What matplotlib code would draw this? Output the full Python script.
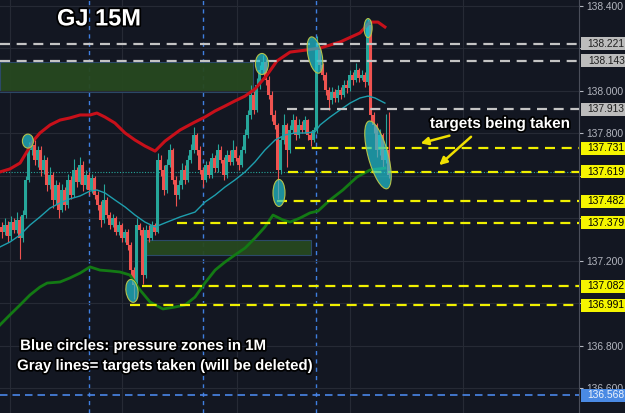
import matplotlib
matplotlib.use('Agg')
import matplotlib.pyplot as plt
import matplotlib.patheffects as pe
from matplotlib.patches import Ellipse, Rectangle
from matplotlib.transforms import IdentityTransform, blended_transform_factory

# 15M candles, GBPJPY
opens = [
    137.360, 137.336, 137.369, 137.317, 137.383, 137.346, 137.393, 137.308, 137.416, 137.581,
    137.722, 137.746, 137.675, 137.722, 137.628, 137.675, 137.558, 137.605, 137.487, 137.558,
    137.440, 137.534, 137.464, 137.581, 137.511, 137.628, 137.572, 137.652, 137.558, 137.605,
    137.534, 137.590, 137.511, 137.464, 137.393, 137.487, 137.416, 137.369, 137.402, 137.336,
    137.369, 137.308, 137.336, 137.275, 137.158, 137.087, 137.369, 137.346, 137.134, 137.346,
    137.308, 137.369, 137.336, 137.675, 137.628, 137.534, 137.652, 137.722, 137.581, 137.511,
    137.558, 137.628, 137.581, 137.675, 137.722, 137.793, 137.722, 137.628, 137.581, 137.652,
    137.605, 137.684, 137.637, 137.722, 137.675, 137.605, 137.699, 137.666, 137.722, 137.684,
    137.652, 137.722, 137.793, 137.887, 137.981, 137.910, 138.028, 138.099, 138.136, 138.052,
    137.981, 137.887, 137.840, 137.628, 137.769, 137.840, 137.722, 137.816, 137.863, 137.793,
    137.840, 137.816, 137.863, 137.793, 137.769, 137.816, 138.193, 138.122, 138.075, 138.004,
    137.957, 137.995, 137.967, 138.004, 137.981, 138.028, 138.014, 138.075, 138.052, 138.099,
    138.061, 138.075, 138.042, 138.310, 137.887, 137.840, 137.722, 137.793, 137.675, 137.722,
]
closes = [
    137.336, 137.369, 137.317, 137.383, 137.346, 137.393, 137.308, 137.416, 137.581, 137.722,
    137.746, 137.675, 137.722, 137.628, 137.675, 137.558, 137.605, 137.487, 137.558, 137.440,
    137.534, 137.464, 137.581, 137.511, 137.628, 137.572, 137.652, 137.558, 137.605, 137.534,
    137.590, 137.511, 137.464, 137.393, 137.487, 137.416, 137.369, 137.402, 137.336, 137.369,
    137.308, 137.336, 137.275, 137.158, 137.087, 137.369, 137.346, 137.134, 137.346, 137.308,
    137.369, 137.336, 137.675, 137.628, 137.534, 137.652, 137.722, 137.581, 137.511, 137.558,
    137.628, 137.581, 137.675, 137.722, 137.793, 137.722, 137.628, 137.581, 137.652, 137.605,
    137.684, 137.637, 137.722, 137.675, 137.605, 137.699, 137.666, 137.722, 137.684, 137.652,
    137.722, 137.793, 137.887, 137.981, 137.910, 138.028, 138.099, 138.136, 138.052, 137.981,
    137.887, 137.840, 137.628, 137.769, 137.840, 137.722, 137.816, 137.863, 137.793, 137.840,
    137.816, 137.863, 137.793, 137.769, 137.816, 138.193, 138.122, 138.075, 138.004, 137.957,
    137.995, 137.967, 138.004, 137.981, 138.028, 138.014, 138.075, 138.052, 138.099, 138.061,
    138.075, 138.042, 138.310, 137.887, 137.840, 137.722, 137.793, 137.675, 137.722, 137.605,
]
highs = [
    137.385, 137.40, 137.39, 137.41, 137.40, 137.43, 137.41, 137.44, 137.60, 137.76,
    137.79, 137.77, 137.74, 137.74, 137.70, 137.69, 137.64, 137.62, 137.58, 137.57,
    137.56, 137.55, 137.61, 137.60, 137.68, 137.64, 137.69, 137.67, 137.63, 137.62,
    137.61, 137.60, 137.53, 137.48, 137.56, 137.50, 137.43, 137.42, 137.41, 137.39,
    137.38, 137.35, 137.35, 137.29, 137.17, 137.40, 137.38, 137.36, 137.37, 137.37,
    137.39, 137.38, 137.71, 137.70, 137.65, 137.68, 137.75, 137.73, 137.60, 137.58,
    137.66, 137.65, 137.70, 137.75, 137.83, 137.80, 137.74, 137.64, 137.67, 137.67,
    137.71, 137.70, 137.75, 137.74, 137.69, 137.72, 137.72, 137.77, 137.74, 137.70,
    137.74, 137.82, 137.91, 138.03, 138.00, 138.06, 138.12, 138.17, 138.15, 138.07,
    138.00, 137.91, 137.85, 137.79, 137.89, 137.85, 137.84, 137.89, 137.88, 137.87,
    137.86, 137.88, 137.87, 137.81, 137.83, 138.26, 138.20, 138.13, 138.09, 138.02,
    138.02, 138.01, 138.03, 138.02, 138.05, 138.05, 138.10, 138.09, 138.13, 138.11,
    138.10, 138.09, 138.34, 138.32, 137.90, 137.85, 137.82, 137.80, 137.89, 137.90,
]
lows = [
    137.31, 137.32, 137.29, 137.30, 137.33, 137.33, 137.21, 137.29, 137.40, 137.57,
    137.70, 137.65, 137.64, 137.60, 137.61, 137.53, 137.54, 137.45, 137.47, 137.40,
    137.43, 137.44, 137.45, 137.49, 137.50, 137.55, 137.56, 137.53, 137.54, 137.51,
    137.52, 137.49, 137.44, 137.36, 137.38, 137.40, 137.35, 137.36, 137.32, 137.32,
    137.29, 137.29, 137.25, 137.13, 137.02, 137.07, 137.32, 137.09, 137.12, 137.29,
    137.30, 137.32, 137.33, 137.60, 137.51, 137.52, 137.64, 137.56, 137.46, 137.49,
    137.54, 137.56, 137.57, 137.66, 137.71, 137.70, 137.61, 137.55, 137.57, 137.59,
    137.59, 137.62, 137.62, 137.66, 137.58, 137.59, 137.65, 137.65, 137.67, 137.63,
    137.64, 137.71, 137.78, 137.87, 137.89, 137.90, 138.01, 138.08, 138.03, 137.96,
    137.86, 137.82, 137.49, 137.61, 137.75, 137.64, 137.71, 137.80, 137.77, 137.78,
    137.80, 137.80, 137.77, 137.74, 137.76, 137.80, 138.10, 138.05, 137.98, 137.91,
    137.94, 137.95, 137.95, 137.96, 137.97, 137.99, 138.00, 138.03, 138.04, 138.04,
    138.05, 138.02, 138.03, 137.86, 137.80, 137.69, 137.70, 137.64, 137.66, 137.59,
]

# indicator lines (bar index, price)
red_x = [-0.5, 2.8, 6.2, 8.8, 10.5, 12.8, 16.2, 19.5, 22.8, 26.2, 29.5, 31.8, 34.5, 37.8,
         41.2, 44.5, 47.8, 51.2, 54.5, 59.5, 64.5, 67.8, 71.2, 74.5, 77.8, 81.2, 84.5, 88.5,
         91.8, 96.2, 101.8, 106.2, 112.8, 119.5, 122.8, 125.5, 127.8]
red_y = [137.619, 137.633, 137.661, 137.722, 137.764, 137.802, 137.840, 137.863, 137.873,
         137.887, 137.887, 137.896, 137.877, 137.849, 137.802, 137.769, 137.741, 137.717,
         137.764, 137.816, 137.854, 137.877, 137.906, 137.929, 137.953, 137.976, 138.009,
         138.075, 138.141, 138.183, 138.193, 138.202, 138.230, 138.273, 138.324, 138.324,
         138.301]
mid_x = [-0.5, 2.8, 6.2, 9.5, 12.8, 16.2, 19.5, 22.8, 26.2, 29.5, 31.8, 34.5, 37.8, 41.2,
         44.5, 47.8, 51.2, 54.5, 59.5, 64.5, 67.8, 71.2, 74.5, 77.8, 81.2, 84.5, 87.8, 91.2,
         94.5, 97.8, 101.2, 104.5, 106.2, 109.5, 112.8, 116.2, 119.5, 122.2, 124.5, 127.8]
mid_y = [137.266, 137.289, 137.322, 137.369, 137.407, 137.449, 137.473, 137.492, 137.506,
         137.529, 137.534, 137.520, 137.487, 137.454, 137.416, 137.383, 137.360, 137.379,
         137.407, 137.430, 137.477, 137.510, 137.548, 137.581, 137.619, 137.666, 137.722,
         137.769, 137.793, 137.802, 137.802, 137.807, 137.840, 137.877, 137.910, 137.943,
         137.967, 137.976, 137.967, 137.943]
grn_x = [-0.5, 2.8, 6.2, 9.5, 12.8, 15.2, 19.5, 22.8, 26.2, 29.5, 32.8, 36.2, 39.5, 42.8,
         46.2, 49.5, 53.8, 57.8, 61.2, 64.5, 67.8, 71.2, 74.5, 77.8, 81.2, 84.5, 87.8, 90.5,
         93.8, 96.2, 99.5, 102.8, 105.5, 109.5, 113.8, 118.5, 122.8, 127.8]
grn_y = [136.899, 136.946, 136.993, 137.040, 137.077, 137.096, 137.101, 137.120, 137.143,
         137.172, 137.157, 137.153, 137.148, 137.134, 137.063, 137.007, 136.974, 136.983,
         136.993, 137.030, 137.096, 137.157, 137.195, 137.228, 137.261, 137.308, 137.360,
         137.416, 137.393, 137.383, 137.402, 137.426, 137.435, 137.487, 137.534, 137.595,
         137.628, 137.637]

# target levels: price, first bar, kind
level_price = [138.221, 138.143, 137.913, 137.731, 137.619, 137.482, 137.379, 137.082, 136.991, 136.568]
level_start = [-0.5, -0.5, 95.2, 97.8, 95.5, 91.8, 58.5, 46.8, 42.8, -0.5]
level_kind = ['gray', 'gray', 'gray', 'yellow', 'yellow', 'yellow', 'yellow', 'yellow', 'yellow', 'blue']
last_price = 137.619

# zones: x0, x1, price low, price high
zones = [(-0.5, 83.8, 137.995, 138.136), (48.2, 103.2, 137.228, 137.299)]

# pressure zones (bar, price, w px, h px, angle)
circles = [(8.8, 137.764, 11, 14, 0), (86.8, 138.127, 13, 21, 0), (104.5, 138.169, 14, 37, 12),
           (122.2, 138.296, 8, 19, 0), (92.5, 137.520, 12, 27, 0), (43.5, 137.059, 12, 23, 8),
           (125.5, 137.699, 20, 70, 15)]

price_ticks = [136.6, 136.8, 137.0, 137.2, 137.4, 137.6, 137.8, 138.0, 138.2, 138.4]
# labels hidden under the level boxes in the original
hidden_ticks = [137.0, 137.4, 137.6, 138.2]
time_grid = [2.8, 40.2, 78.5, 116.2, 153.8]
day_breaks = [29.2, 67.2, 104.8]

BG = '#131722'
UP = '#26a69a'
DOWN = '#ef5350'
kind_color = {'gray': '#c4c4c4', 'yellow': '#f0f000', 'blue': '#4a86e8'}
box_face = {'gray': '#bcbcbc', 'yellow': '#f5f500', 'blue': '#4a8ae4'}
box_text = {'gray': '#1e1e1e', 'yellow': '#000000', 'blue': '#eef3fb'}

plt.rcParams['font.family'] = ['Liberation Sans', 'DejaVu Sans']

fig = plt.figure(figsize=(6.25, 4.13), dpi=100)
fig.patch.set_facecolor(BG)
ax = fig.add_axes([0, 0, 579 / 625, 1])
ax.set_facecolor(BG)
ax.set_xlim(-0.5, 192.5)
ax.set_ylim(136.4845, 138.428)

for s in ['top', 'left', 'bottom']:
    ax.spines[s].set_visible(False)
ax.spines['right'].set_color('#4a4e5a')
ax.yaxis.tick_right()
ax.set_yticks(price_ticks)
ax.set_yticklabels(['' if p in hidden_ticks else '%.3f' % p for p in price_ticks])
ax.tick_params(axis='y', colors='#b2b5be', labelsize=7.4, length=3, width=0.8, pad=2)
ax.set_xticks([])
ax.grid(axis='y', color='#262a35', lw=0.8)
for x in time_grid:
    ax.axvline(x, color='#262a35', lw=0.8, zorder=0.5)
for x in day_breaks:
    ax.axvline(x, color='#3f7fe0', lw=1, ls=(0, (3, 3)), zorder=0.6)

for x0, x1, p0, p1 in zones:
    ax.add_patch(Rectangle((x0, p0), x1 - x0, p1 - p0, facecolor='#27481f', edgecolor='#2d4b6e',
                           lw=0.8, alpha=0.95, zorder=1))

# candles
for i in range(len(closes)):
    o, c = opens[i], closes[i]
    col = UP if c >= o else DOWN
    ax.vlines(i, lows[i], highs[i], color=col, lw=0.8, zorder=3)
    ax.bar(i, max(abs(c - o), 0.003), bottom=min(o, c), width=0.7, color=col, lw=0, zorder=3)

ax.plot(red_x, red_y, color='#c8101a', lw=2.2, zorder=4)
ax.plot(mid_x, mid_y, color='#1e9fae', lw=1, zorder=4)
ax.plot(grn_x, grn_y, color='#137a14', lw=2.0, zorder=4)

ax.axhline(last_price, color=UP, lw=0.8, ls=(0, (1, 1.5)), zorder=2)

for p, x0, k in zip(level_price, level_start, level_kind):
    lw = 1.2 if k == 'blue' else 1.6
    ax.hlines(p, x0, 192.5, color=kind_color[k], lw=lw, ls=(0, (4.5, 3)), zorder=5)

# price boxes on axis
bt = blended_transform_factory(ax.transAxes, ax.transData)
bh = 13 / 212.5
for p, k in zip(level_price, level_kind):
    ax.add_patch(Rectangle((1.0035, p - bh / 2), 46 / 579, bh, transform=bt, facecolor=box_face[k],
                           edgecolor='none', clip_on=False, zorder=10))
    ax.text(1.047, p, '%.3f' % p, transform=bt, ha='center', va='center', fontsize=7.4,
            color=box_text[k], clip_on=False, zorder=11)

# pressure ellipses drawn in pixel size
fig.canvas.draw()
for bx, p, w, h, a in circles:
    cx, cy = ax.transData.transform((bx, p))
    ax.add_artist(Ellipse((cx, cy), w, h, angle=a, transform=IdentityTransform(),
                          facecolor=(0.13, 0.76, 0.82, 0.7), edgecolor='#b5c24a', lw=0.8, zorder=6))

stroke = [pe.withStroke(linewidth=2.5, foreground='black')]
ax.text(18.5, 138.339, 'GJ 15M', color='white', fontsize=17, fontweight='bold', va='center',
        path_effects=stroke, zorder=12)
ax.text(142.8, 137.845, 'targets being taken', color='white', fontsize=11, fontweight='bold',
        va='center', path_effects=stroke, zorder=12)
ax.text(6.2, 136.800, 'Blue circles: pressure zones in 1M', color='white', fontsize=10.8,
        fontweight='bold', va='center', path_effects=stroke, zorder=12)
ax.text(5.2, 136.706, 'Gray lines= targets taken (will be deleted)', color='white', fontsize=10.8,
        fontweight='bold', va='center', path_effects=stroke, zorder=12)

arrow = dict(arrowstyle='-|>', color='#f0e000', lw=1.8, mutation_scale=11)
ax.annotate('', xy=(138.8, 137.750), xytext=(150.2, 137.793), arrowprops=arrow, zorder=12)
ax.annotate('', xy=(145.2, 137.642), xytext=(157.2, 137.793), arrowprops=arrow, zorder=12)

fig.savefig('out.png', dpi=100, facecolor=BG)
